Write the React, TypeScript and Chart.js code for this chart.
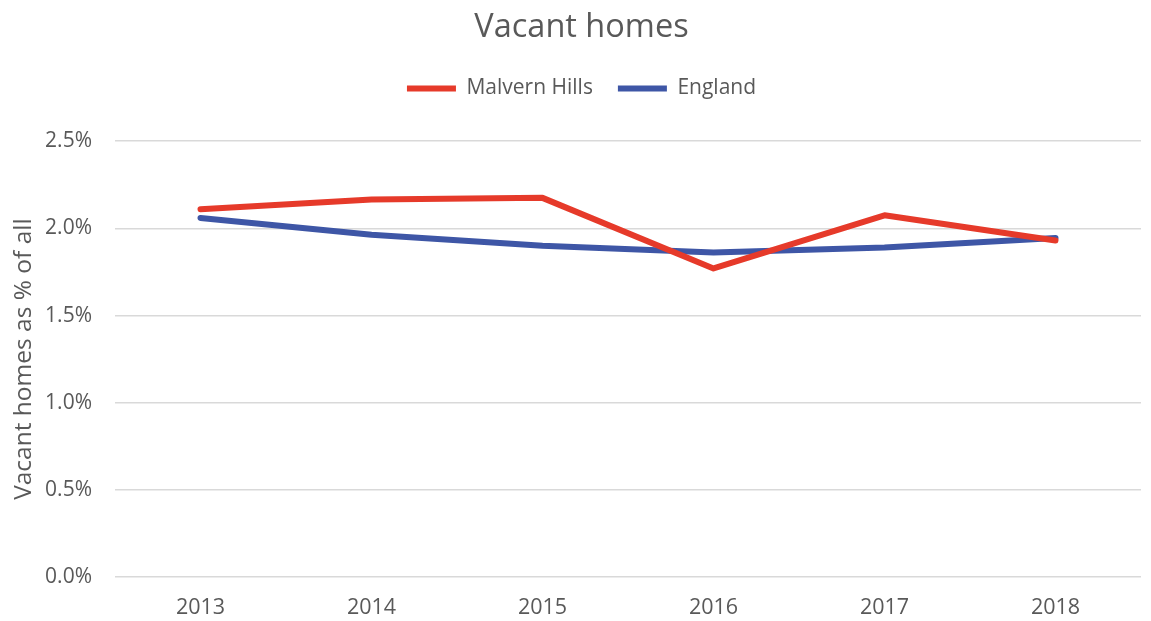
import React, { useEffect, useRef } from "react";
import { Chart, registerables } from "chart.js";

Chart.register(...registerables);

const years = ["2013", "2014", "2015", "2016", "2017", "2018"];
const malvernHills = [2.11, 2.165, 2.175, 1.77, 2.075, 1.93];
const england = [2.06, 1.963, 1.9, 1.862, 1.89, 1.945];
const yTicks = [0, 0.5, 1.0, 1.5, 2.0, 2.5];

const FONT = "'Open Sans', sans-serif";
const TEXT = "#595959";
const LEFT_PAD = 22;

export default function App() {
  const ref = useRef<HTMLCanvasElement>(null);
  useEffect(() => {
    if (!ref.current) return;
    const chart = new Chart(ref.current, {
      type: "line",
      data: {
        labels: years,
        datasets: [
          {
            label: "Malvern Hills",
            data: malvernHills,
            borderColor: "#E63A2A",
            backgroundColor: "#E63A2A",
            borderWidth: 6,
            borderCapStyle: "round",
            borderJoinStyle: "round",
            pointRadius: 0,
            pointStyle: "line",
            tension: 0,
          },
          {
            label: "England",
            data: england,
            borderColor: "#3E56A6",
            backgroundColor: "#3E56A6",
            borderWidth: 6,
            borderCapStyle: "round",
            borderJoinStyle: "round",
            pointRadius: 0,
            pointStyle: "line",
            tension: 0,
          },
        ],
      },
      options: {
        responsive: false,
        animation: false,
        layout: { padding: { left: LEFT_PAD, right: 10, top: 0, bottom: 0 } },
        plugins: {
          title: {
            display: true,
            text: "Vacant homes",
            color: TEXT,
            font: { family: FONT, size: 32.5, weight: "normal" },
            padding: { top: 8, bottom: 6 },
          },
          subtitle: {
            display: true,
            text: " ",
            weight: 500,
            font: { family: FONT, size: 1 },
            padding: { top: 31, bottom: 0 },
          } as any,
          legend: {
            display: true,
            position: "top",
            labels: {
              usePointStyle: true,
              pointStyleWidth: 49,
              color: TEXT,
              font: { family: FONT, size: 21 },
              padding: 25,
            },
          },
          tooltip: { enabled: false },
        },
        scales: {
          x: {
            offset: true,
            grid: { display: false, drawTicks: false },
            border: { display: false },
            ticks: {
              color: TEXT,
              font: { family: FONT, size: 21.5 },
              padding: 18,
            },
            afterFit: (scale: any) => {
              scale.height = 44;
            },
          },
          y: {
            min: 0,
            max: 2.5,
            afterBuildTicks: (scale: any) => {
              scale.ticks = yTicks.map((v) => ({ value: v }));
            },
            grid: { color: "#D9D9D9", lineWidth: 1.5, drawTicks: false },
            border: { display: false },
            ticks: {
              color: TEXT,
              font: { family: FONT, size: 21 },
              padding: 23,
              callback: (v: any) => Number(v).toFixed(1) + "%",
            },
            title: {
              display: true,
              text: "Vacant homes as % of all",
              color: TEXT,
              font: { family: FONT, size: 24.5 },
              padding: { top: -12.5, bottom: 0 },
            },
            afterFit: (scale: any) => {
              scale.width = 115 - LEFT_PAD;
            },
          },
        },
      },
    });
    return () => chart.destroy();
  }, []);
  return (
    <div style={{ position: "absolute", left: 0, top: 0, width: 1151, height: 621, background: "#fff" }}>
      <canvas ref={ref} width={1151} height={621} style={{ width: 1151, height: 621 }} />
    </div>
  );
}
